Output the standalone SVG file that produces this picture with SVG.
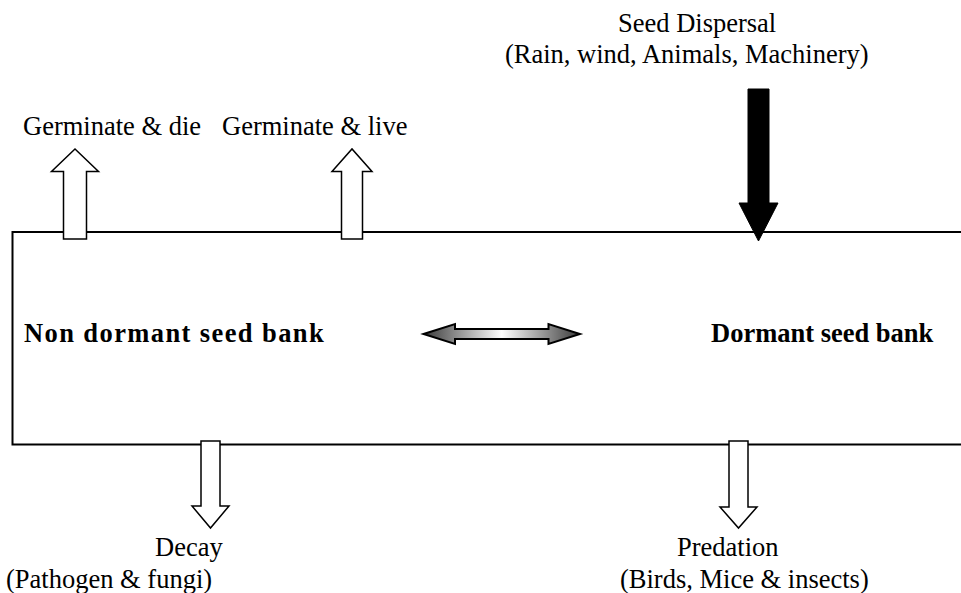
<svg xmlns="http://www.w3.org/2000/svg" width="961" height="593" viewBox="0 0 961 593">
<style>
text{font-family:"Liberation Serif","Times New Roman",serif;font-size:26.5px;fill:#000}
.b{font-weight:bold}
.box{fill:none;stroke:#000;stroke-width:2}
.hollow{fill:#fff;stroke:#000;stroke-width:1.5;stroke-linejoin:miter}
.solid{fill:#000;stroke:#000;stroke-width:1}
</style>
<defs>
<linearGradient id="g" x1="0" x2="1" y1="0" y2="0">
<stop offset="0" stop-color="#3a3a3a"/>
<stop offset="0.5" stop-color="#ffffff"/>
<stop offset="1" stop-color="#3a3a3a"/>
</linearGradient>
</defs>
<g id="seedbank">
<path class="box" d="M962,232 H12.5 V444.5 H962"/>
<text id="nondormant" class="b" x="24" y="342" letter-spacing="1.4">Non dormant seed bank</text>
<text id="dormant" class="b" x="711" y="342">Dormant seed bank</text>
</g>
<g id="connectors">
<polygon id="arr-germ-die" class="hollow" points="63.5,239 63.5,171.5 51.5,171.5 75,149 98.5,171.5 86.5,171.5 86.5,239"/>
<polygon id="arr-germ-live" class="hollow" points="341.5,239 341.5,171.5 332,171.5 352,149 372,171.5 362.5,171.5 362.5,239"/>
<polygon id="arr-dispersal" class="solid" points="748,89 769,89 769,203 778,203 758.5,241 739,203 748,203"/>
<polygon id="arr-decay" class="hollow" points="201,441 220,441 220,506 229,506 210.5,528 192,506 201,506"/>
<polygon id="arr-predation" class="hollow" points="729,441 748,441 748,507 757,507 738.5,528 720,507 729,507"/>
<polygon id="arr-exchange" fill="url(#g)" stroke="#000" stroke-width="2" points="423.5,334 455,324 455,329 548.5,329 548.5,324 580,334 548.5,344 548.5,339 455,339 455,344"/>
</g>
<g id="germ-die"><text x="23" y="135">Germinate &amp; die</text></g>
<g id="germ-live"><text x="222" y="135">Germinate &amp; live</text></g>
<g id="dispersal">
<text x="618" y="32">Seed Dispersal</text>
<text x="505" y="63">(Rain, wind, Animals, Machinery)</text>
</g>
<g id="decay">
<text x="155" y="556">Decay</text>
<text x="6" y="588">(Pathogen &amp; fungi)</text>
</g>
<g id="predation">
<text x="677" y="556">Predation</text>
<text x="620" y="588">(Birds, Mice &amp; insects)</text>
</g>
</svg>
